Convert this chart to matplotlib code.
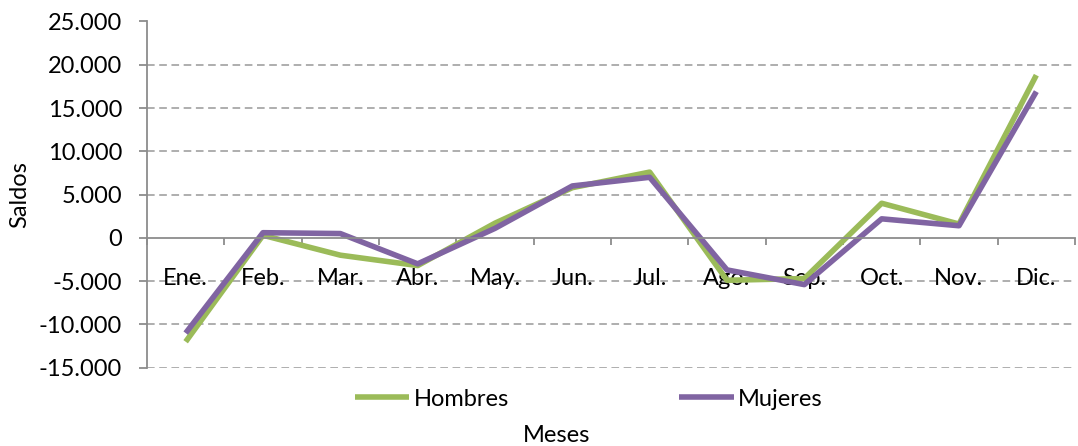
import matplotlib.pyplot as plt
import numpy as np

meses = ['Ene.', 'Feb.', 'Mar.', 'Abr.', 'May.', 'Jun.', 'Jul.', 'Ago.', 'Sep.', 'Oct.', 'Nov.', 'Dic.']
hombres = [-12000, 300, -2000, -3200, 1700, 5800, 7600, -4900, -4700, 4000, 1600, 18800]
mujeres = [-11000, 600, 500, -3000, 1100, 6000, 7000, -3700, -5400, 2200, 1400, 16900]
yticks = [-15000, -10000, -5000, 0, 5000, 10000, 15000, 20000, 25000]

plt.rcParams['font.family'] = ['Lato', 'DejaVu Sans']
fs = 17

fig = plt.figure(figsize=(10.78, 4.46), dpi=100)
ax = fig.add_axes([147/1078, 1 - 367.7/446, 928/1078, 346.2/446])

x = np.arange(len(meses))
ax.plot(x, hombres, color='#9BBB59', lw=4, label='Hombres', solid_capstyle='butt')
ax.plot(x, mujeres, color='#8064A2', lw=4, label='Mujeres', solid_capstyle='butt')

ax.set_xlim(-0.5, len(meses) - 0.5)
ax.set_ylim(-15000, 25000)

grey = '#8c8c8c'
for v in yticks:
    if v != 0:
        ax.axhline(v, color='#999999', lw=1.1, ls=(0, (5, 3)), zorder=0)

ax.spines['top'].set_visible(False)
ax.spines['right'].set_visible(False)
ax.spines['bottom'].set_position(('data', 0))
ax.spines['bottom'].set_color(grey)
ax.spines['left'].set_color(grey)
ax.spines['bottom'].set_linewidth(1.3)
ax.spines['left'].set_linewidth(1.3)

ax.set_yticks(yticks)
ax.set_yticklabels([f'{v:,}'.replace(',', '.') for v in yticks], fontsize=fs)
ax.tick_params(axis='y', length=6, color=grey, width=1.3, pad=12)

ax.set_xticks(np.arange(-0.5, len(meses), 1))
ax.set_xticklabels([])
ax.tick_params(axis='x', which='major', length=5, color=grey, width=1.3, direction='out')
ax.set_xticks(x, minor=True)
ax.set_xticklabels(meses, minor=True, fontsize=fs)
ax.tick_params(axis='x', which='minor', length=0, pad=22)

fig.text(20/1078, 1 - 195/446, 'Saldos', rotation=90, fontsize=fs, ha='center', va='center')
fig.text(557/1078, 1 - 435/446, 'Meses', fontsize=fs, ha='center', va='center')

fig.legend(loc='center', bbox_to_anchor=(589/1078, 1 - 399/446), ncol=2, frameon=False,
           fontsize=fs, handlelength=2.3, handletextpad=0.2, columnspacing=7.2)

fig.savefig('out.png', dpi=100)
